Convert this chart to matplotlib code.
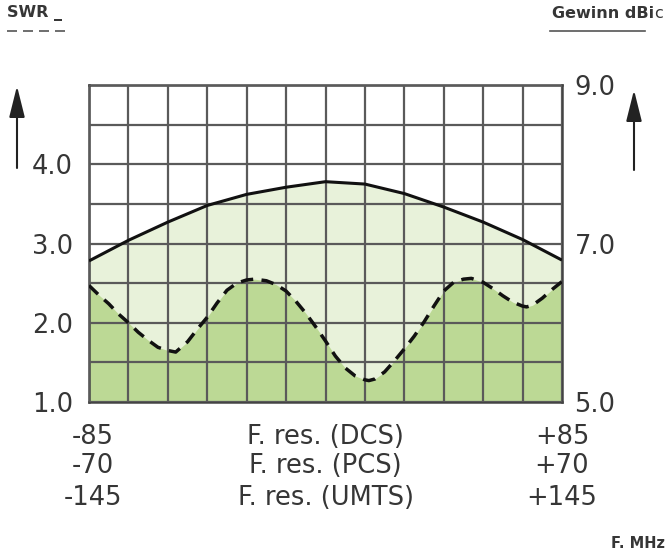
import numpy as np
import matplotlib.pyplot as plt
from matplotlib.lines import Line2D

# Gewinn (dBic), read at every grid column
gain_x = list(range(13))
gain = [6.78, 7.04, 7.27, 7.48, 7.62, 7.71, 7.78, 7.75, 7.63, 7.46, 7.27, 7.05, 6.79]

# SWR (dashed)
swr_x = [0, 0.25, 0.5, 0.75, 1, 1.25, 1.5, 1.75, 2, 2.2, 2.5, 2.75, 3, 3.25, 3.5, 3.75,
         4, 4.2, 4.5, 4.75, 5, 5.25, 5.5, 5.75, 6, 6.25, 6.5, 6.75, 7, 7.1, 7.25, 7.5,
         7.75, 8, 8.25, 8.5, 8.75, 9, 9.25, 9.5, 9.7, 10, 10.25, 10.5, 10.75, 11, 11.1,
         11.25, 11.5, 11.75, 12]
swr = [2.47, 2.35, 2.24, 2.11, 2.0, 1.88, 1.78, 1.69, 1.65, 1.63, 1.76, 1.92, 2.07, 2.25,
       2.41, 2.5, 2.54, 2.55, 2.53, 2.48, 2.4, 2.27, 2.12, 1.95, 1.77, 1.58, 1.43, 1.33,
       1.28, 1.27, 1.29, 1.38, 1.52, 1.67, 1.83, 2.01, 2.21, 2.4, 2.51, 2.55, 2.56, 2.51,
       2.43, 2.34, 2.26, 2.21, 2.2, 2.22, 2.31, 2.42, 2.52]

swr_ticks = ['1.0', '', '2.0', '', '3.0', '', '4.0', '', '']
gain_ticks = ['5.0', '', '', '', '7.0', '', '', '', '9.0']
rows = [('-85', 'F. res. (DCS)', '+85'),
        ('-70', 'F. res. (PCS)', '+70'),
        ('-145', 'F. res. (UMTS)', '+145')]

txt = '#363636'
gridc = '#5a5a5a'
fs = 18.5

fig = plt.figure(figsize=(6.72, 5.56), dpi=100)
ax = fig.add_axes([89/672, 1-402/556, 473/672, 317/556])
ax.set_xlim(0, 12)
ax.set_ylim(1, 5)

g = np.array(gain) - 4  # right axis is left axis + 4
ax.fill_between(gain_x, 1, g, color='#e8f2da', lw=0, zorder=1)
ax.fill_between(swr_x, 1, swr, color='#bcd995', lw=0, zorder=1.1)
ax.plot(gain_x, g, color='#111111', lw=2.2, zorder=3, solid_capstyle='butt')
ax.plot(swr_x, swr, color='#111111', lw=2.5, ls=(0, (3.6, 2.4)), zorder=3)

ax.set_xticks(range(13))
ax.set_xticklabels([])
yt = np.arange(1, 5.01, 0.5)
ax.set_yticks(yt)
ax.set_yticklabels(swr_ticks, fontsize=fs, color=txt)
ax.tick_params(length=0, pad=11.5)
ax.grid(True, color=gridc, lw=1.6)
ax.set_axisbelow(False)
for s in ax.spines.values():
    s.set_color('#444444')
    s.set_linewidth(1.8)

sec = ax.secondary_yaxis('right', functions=(lambda v: v + 4, lambda v: v - 4))
sec.set_yticks(yt + 4)
sec.set_yticklabels(gain_ticks, fontsize=fs, color=txt)
sec.tick_params(length=0, pad=9)
sec.spines['right'].set_visible(False)

tr = ax.get_xaxis_transform()
for (l, m, r), yy in zip(rows, [-0.133, -0.225, -0.326]):
    ax.text(0.1, yy, l, transform=tr, ha='center', va='baseline', fontsize=fs, color=txt)
    ax.text(6, yy, m, transform=tr, ha='center', va='baseline', fontsize=fs, color=txt)
    ax.text(12, yy, r, transform=tr, ha='center', va='baseline', fontsize=fs, color=txt)

# header labels
fig.text(7/672, 1-13/556, 'SWR _', fontsize=11.5, fontweight='bold', color=txt, va='center')
fig.add_artist(Line2D([7/672, 65/672], [1-31/556]*2, color='#555555', lw=1.2,
                      ls=(0, (6, 3.6))))
fig.text(552/672, 1-13/556, 'Gewinn dBi', fontsize=11.5, fontweight='bold', color=txt, va='center')
fig.text(654/672, 1-13/556, 'c', fontsize=11.5, color=txt, va='center')
fig.add_artist(Line2D([550/672, 645/672], [1-31/556]*2, color='#555555', lw=1.2))
fig.text(611/672, 1-543/556, 'F. MHz', fontsize=10.5, fontweight='bold', color=txt, va='center')

# arrows
arr = dict(arrowstyle='-|>,head_length=0.8,head_width=0.2', mutation_scale=24,
           lw=1.5, color='#222222', shrinkA=0, shrinkB=0)
ax.annotate('', xy=(17, 556-86), xytext=(17, 556-168), xycoords='figure pixels',
            textcoords='figure pixels', arrowprops=arr)
ax.annotate('', xy=(634, 556-90), xytext=(634, 556-170), xycoords='figure pixels',
            textcoords='figure pixels', arrowprops=arr)

fig.savefig('out.png', dpi=100, facecolor='white')
